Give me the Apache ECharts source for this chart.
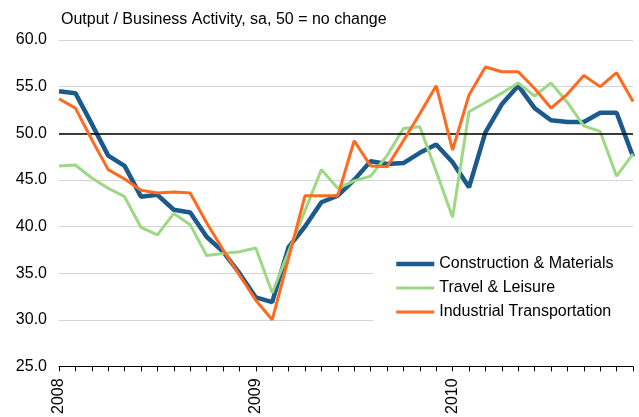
<!DOCTYPE html>
<html>
<head>
<meta charset="utf-8">
<script src="https://cdn.jsdelivr.net/npm/echarts@6/dist/echarts.min.js"></script>
<style>
html,body{margin:0;padding:0;background:#fff;}
#chart{width:639px;height:417px;}
</style>
</head>
<body>
<div id="chart"></div>
<script>
var months = [
  '2008-01','2008-02','2008-03','2008-04','2008-05','2008-06','2008-07','2008-08','2008-09','2008-10','2008-11','2008-12',
  '2009-01','2009-02','2009-03','2009-04','2009-05','2009-06','2009-07','2009-08','2009-09','2009-10','2009-11','2009-12',
  '2010-01','2010-02','2010-03','2010-04','2010-05','2010-06','2010-07','2010-08','2010-09','2010-10','2010-11','2010-12'
];
var construction = [54.5, 54.3, 51.0, 47.6, 46.5, 43.2, 43.4, 41.8, 41.5, 38.9, 37.3, 35.0,
                    32.4, 31.9, 37.8, 40.0, 42.6, 43.3, 45.0, 47.0, 46.7, 46.8, 47.9, 48.8,
                    46.9, 44.2, 50.1, 53.1, 55.1, 52.7, 51.4, 51.2, 51.2, 52.2, 52.2, 47.5];
var travel = [46.5, 46.6, 45.2, 44.1, 43.2, 39.9, 39.1, 41.4, 40.2, 36.9, 37.1, 37.3,
              37.7, 32.9, 37.3, 41.7, 46.1, 44.1, 44.9, 45.4, 47.6, 50.5, 50.7, 45.9,
              41.0, 52.3, 53.3, 54.3, 55.4, 54.0, 55.4, 53.3, 50.8, 50.2, 45.4, 47.8];
var industrial = [53.7, 52.7, 49.3, 46.1, 45.1, 43.9, 43.6, 43.7, 43.6, 40.4, 37.5, 34.8,
                  32.1, 30.0, 36.6, 43.3, 43.3, 43.3, 49.2, 46.5, 46.4, 49.2, 52.1, 55.1,
                  48.2, 54.1, 57.1, 56.6, 56.6, 54.8, 52.7, 54.2, 56.2, 55.0, 56.5, 53.4];
var seriesNames = ['Construction & Materials', 'Travel & Leisure', 'Industrial Transportation'];
var titleText = 'Output / Business Activity, sa, 50 = no change';
var noChangeLevel = 50;

var FONT = "'Liberation Sans', Arial, sans-serif";
var chart = echarts.init(document.getElementById('chart'), null, {renderer: 'canvas'});
chart.setOption({
  animation: false,
  backgroundColor: '#fff',
  title: {
    text: titleText, left: 61, top: 12, padding: 0,
    textStyle: {fontFamily: FONT, fontSize: 16, fontWeight: 'normal', color: '#000'}
  },
  grid: {left: 59, right: 6, top: 40, bottom: 47, containLabel: false},
  legend: {
    orient: 'vertical', left: 373, top: 238,
    padding: [18, 21, 6, 21],
    backgroundColor: '#fff',
    itemWidth: 38, itemHeight: 14, itemGap: 8,
    itemStyle: {opacity: 0},
    textStyle: {fontFamily: FONT, fontSize: 16, color: '#000'},
    data: [
      {name: seriesNames[0], lineStyle: {width: 4.5}},
      {name: seriesNames[1], lineStyle: {width: 3}},
      {name: seriesNames[2], lineStyle: {width: 3}}
    ]
  },
  xAxis: {
    type: 'category', data: months, boundaryGap: false,
    axisLine: {show: true, lineStyle: {color: '#000', width: 1}},
    axisTick: {show: true, interval: 0, length: 5, lineStyle: {color: '#000'}},
    axisLabel: {
      interval: function (i) { return i % 12 === 0; },
      rotate: 90, margin: 12,
      fontFamily: FONT, fontSize: 16, color: '#000',
      formatter: function (v) { return v.slice(0, 4); }
    },
    splitLine: {show: false}
  },
  yAxis: {
    type: 'value', min: 25, max: 60, interval: 5,
    axisLine: {show: false}, axisTick: {show: false},
    axisLabel: {fontFamily: FONT, fontSize: 16, color: '#000', margin: 12,
      formatter: function (v) { return v.toFixed(1); }},
    splitLine: {lineStyle: {color: '#d4d4d4', width: 1}}
  },
  series: [
    {
      name: seriesNames[0], type: 'line', data: construction, symbol: 'none',
      lineStyle: {color: '#1B5A8A', width: 4.5}, itemStyle: {color: '#1B5A8A'},
      z: 3,
      markLine: {
        silent: true, symbol: 'none', label: {show: false},
        lineStyle: {color: '#000', width: 1.5, type: 'solid'},
        data: [{yAxis: noChangeLevel}]
      }
    },
    {
      name: seriesNames[1], type: 'line', data: travel, symbol: 'none',
      lineStyle: {color: '#9DD884', width: 3}, itemStyle: {color: '#9DD884'}, z: 4
    },
    {
      name: seriesNames[2], type: 'line', data: industrial, symbol: 'none',
      lineStyle: {color: '#FF6A1F', width: 3}, itemStyle: {color: '#FF6A1F'}, z: 5
    }
  ]
});
</script>
</body>
</html>
